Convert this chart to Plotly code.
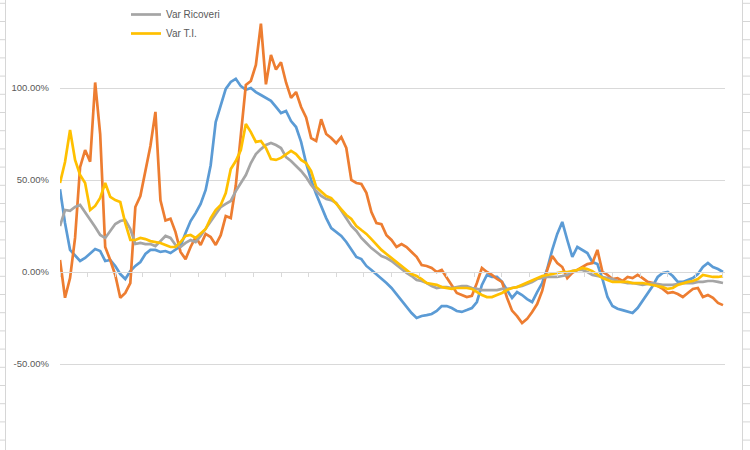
import plotly.graph_objects as go

# ---- data (percent variation) ----
var_positivi = [45, 26.6, 12, 8.7, 6, 7.6, 10.3, 12.5, 11.4, 6, 6.5, 3.3, -1.1, -3.8, 0.5, 3.3, 5.4, 9.8, 12, 12,
                10.9, 11.4, 10.3, 12, 14.1, 21.2, 27.7, 32, 37, 44.6, 58, 81.5, 90, 99.5, 103.3, 105, 101, 99, 100, 97.8,
                96.2, 94.6, 93, 89.7, 86.4, 87.5, 82, 78.8, 70.7, 59.2, 50, 42.4, 35.9, 29.3, 23.9, 21.7, 19.6, 16.3, 12.5, 8.2,
                7, 3.3, 1.1, -1.1, -3.3, -6, -8.7, -12, -15.8, -19, -22.3, -25, -23.9, -23.4, -22.8, -21.2, -18.5, -18.5, -19.6, -21.2,
                -21.7, -20.7, -19.6, -16.3, -7, -1.6, -2.7, -2.7, -5.4, -9.8, -14.1, -10.9, -12.5, -14.7, -16.3, -10.9, -6, 1.6, 12, 20.7,
                27.2, 17.4, 8.2, 13.6, 12, 10.3, 5.4, 4.3, -3.8, -13.6, -18.5, -20, -20.7, -21.7, -22.3, -19.6, -15.8, -12, -7.6, -2.7,
                -0.5, 0, -2.2, -5.4, -5.4, -4.3, -3.3, -1.1, 2.7, 4.9, 2.7, 1.6, 0]

var_deceduti = [6.5, -14, -3.3, 18.5, 57, 66.3, 60, 103, 75, 13.6, 6.5, -1.6, -14, -11.4, -6, 35.3, 41.3, 55.4, 68.5, 87,
                39, 28, 29, 21.7, 10.9, 7, 13.6, 19, 14.7, 20.7, 19, 14.7, 20, 30.4, 29.3, 47, 73, 101.6, 103.8, 112.5,
                135, 102, 118, 110, 114, 103, 94.6, 97.8, 89.7, 84, 72.8, 71.2, 83, 75, 72.8, 70, 73.4, 67.4, 50, 48.4,
                47.8, 43, 32.6, 26.6, 26, 20, 17.4, 13.6, 15.2, 13.6, 10.9, 8.2, 3.8, 3.3, 2.2, 0, 1.1, -3.3, -7, -11.4,
                -12.5, -13.6, -13, -6, 2.2, 0, -1.6, -3.8, -5.4, -14, -21, -24, -27.7, -25.5, -21.7, -17.4, -10.3, 1.1, 8.7, 4.9,
                2.7, -3.3, -0.5, 1.1, 2.7, 4.3, 4.9, 12, 0, -1.6, -3.8, -3.3, -4.9, -2.7, -3.3, -1.6, -3.3, -5.4, -6, -7.6,
                -9.2, -11.4, -10.9, -12, -13.6, -11.4, -9.2, -8.7, -13.6, -12.5, -14, -16.8, -18]

var_ricoveri = [25, 33.7, 33.2, 35.3, 36.4, 32.6, 28.3, 24.5, 20.1, 18.5, 22.3, 26.1, 27.7, 28.3, 23.4, 15.2, 15.8, 15.2, 15.2, 14.1,
                16.8, 19.6, 18.5, 14.7, 13.6, 15.8, 17.4, 16.3, 19.6, 23.4, 27.7, 31.5, 35.3, 37, 38.6, 44, 48.4, 52.7, 59.2, 64.1,
                66.8, 69, 70.1, 69, 67.4, 62.5, 60.3, 57.6, 54.9, 51.6, 47.3, 44, 41.3, 39.7, 39.1, 37.5, 33.2, 28.8, 25, 22.3,
                18.5, 15.8, 13, 10.9, 8.7, 7.6, 6, 3.8, 1.6, -0.5, -2.2, -4.3, -4.9, -6, -7.6, -8.7, -8.2, -8.2, -8.7, -8.2,
                -7.6, -7.6, -8.7, -9.2, -9.8, -9.8, -9.8, -9.8, -9.2, -9.2, -8.7, -8.2, -7.6, -6.5, -5.4, -3.8, -3.3, -2.7, -2.7, -2.7,
                -2.2, -1.6, 0.5, 1.1, 1.1, 0, -1.6, -2.2, -2.7, -3.3, -3.8, -4.9, -5.4, -6, -6, -6.5, -7, -6.5, -6, -6.5,
                -7, -7, -7, -6.5, -6, -6, -6, -5.4, -5.4, -4.9, -4.9, -5.4, -6]

var_ti = [48.4, 59.8, 77.2, 60.9, 52.7, 48.4, 33.7, 35.9, 40.2, 48.4, 40.8, 39.1, 38, 26.6, 17.4, 17.4, 18.5, 17.9, 16.8, 16.3,
          15.8, 14.7, 13.6, 13.6, 16.3, 19.6, 20.1, 18.5, 20.7, 23.4, 29.3, 33.7, 36.4, 42.9, 56, 60.3, 66.3, 80.4, 76, 70.7,
          71.2, 67.4, 61.4, 60.9, 62, 64.1, 65.8, 64.1, 60.9, 59.2, 54.9, 46.2, 43.5, 41.3, 40.2, 37, 33.7, 31, 28.8, 25,
          22.8, 20.7, 17.9, 14.7, 12, 9.8, 7.6, 5.4, 3.3, 1.1, -1.1, -2.2, -3.8, -6, -6.5, -7, -8.2, -8.7, -9.2, -8.7,
          -8.7, -8.7, -9.2, -10.9, -12.5, -13.6, -13.6, -12.5, -11.4, -9.8, -8.7, -8.2, -7, -6, -4.9, -3.3, -2.2, -1.6, -1.1, -0.5,
          0, 0, 0.5, 1.1, 2.2, 1.6, 0.5, -1.6, -3.3, -4.3, -5.4, -5.4, -5.4, -5.4, -6, -6, -6, -6.5, -7, -7.6,
          -8.2, -9.2, -8.7, -7, -6, -5.4, -4.9, -3.8, -1.6, -2.2, -2.7, -2.7, -2.2]

days = list(range(len(var_positivi)))

y_ticks = [-100, -50, 0, 50, 100, 150]
y_tick_text = ["-100.00%", "-50.00%", "0.00%", "50.00%", "100.00%", "150.00%"]

colors = {"pos": "#5B9BD5", "dec": "#ED7D31", "ric": "#A5A5A5", "ti": "#FFC000"}

fig = go.Figure()
fig.add_trace(go.Scatter(x=days, y=var_positivi, mode="lines", name="Var Positivi",
                         line=dict(color=colors["pos"], width=2.7), showlegend=False))
fig.add_trace(go.Scatter(x=days, y=var_deceduti, mode="lines", name="Var Deceduti",
                         line=dict(color=colors["dec"], width=2.7), showlegend=False))
fig.add_trace(go.Scatter(x=days, y=var_ricoveri, mode="lines", name="Var Ricoveri",
                         line=dict(color=colors["ric"], width=2.7)))
fig.add_trace(go.Scatter(x=days, y=var_ti, mode="lines", name="Var T.I.",
                         line=dict(color=colors["ti"], width=2.7)))

W, H = 750, 450
L, R = 60, 25
PW = W - L - R

def px_x(p):
    return (p - L) / PW

def px_y(p):
    return 1 - p / H

# spreadsheet cell borders visible around the chart
shapes = []
grid_col = "#d6d6d6"
for xv in (5.5, 742.5):
    shapes.append(dict(type="line", xref="paper", yref="paper", x0=px_x(xv), x1=px_x(xv), y0=0, y1=1,
                       line=dict(color=grid_col, width=1), layer="below"))
k = 0
while 3.3 + 18.2 * k < H:
    yy = 3.3 + 18.2 * k
    shapes.append(dict(type="line", xref="paper", yref="paper", x0=px_x(0), x1=px_x(5.5), y0=px_y(yy), y1=px_y(yy),
                       line=dict(color=grid_col, width=1), layer="below"))
    shapes.append(dict(type="line", xref="paper", yref="paper", x0=px_x(742.5), x1=px_x(750), y0=px_y(yy), y1=px_y(yy),
                       line=dict(color=grid_col, width=1), layer="below"))
    k += 1

ymin, ymax = -96.74, 147.83
zero_pos = (0 - ymin) / (ymax - ymin)

fig.update_layout(
    width=W, height=H,
    margin=dict(l=L, r=R, t=0, b=0),
    paper_bgcolor="white", plot_bgcolor="white",
    font=dict(family="Liberation Sans, Arial, sans-serif", size=10, color="#595959"),
    shapes=shapes,
    showlegend=True,
    legend=dict(x=px_x(126), y=1.0, xanchor="left", yanchor="top", bgcolor="rgba(0,0,0,0)",
                font=dict(size=10, color="#595959"), tracegroupgap=0, itemwidth=30),
    xaxis=dict(range=[0, 132.4], anchor="free", position=zero_pos, showgrid=False, zeroline=False,
               showline=True, linecolor="#d9d9d9", linewidth=1,
               ticks="outside", ticklen=4, tickcolor="#d9d9d9", tickwidth=1,
               tickmode="linear", tick0=0, dtick=5.5, showticklabels=False),
    yaxis=dict(range=[ymin, ymax], tickmode="array", tickvals=y_ticks, ticktext=y_tick_text,
               showgrid=True, gridcolor="#d9d9d9", gridwidth=1, zeroline=False, showline=False,
               ticks="", ticklabelstandoff=10, tickfont=dict(size=9.5, color="#595959")),
)

fig.write_html("out.html", config={"displayModeBar": False})
